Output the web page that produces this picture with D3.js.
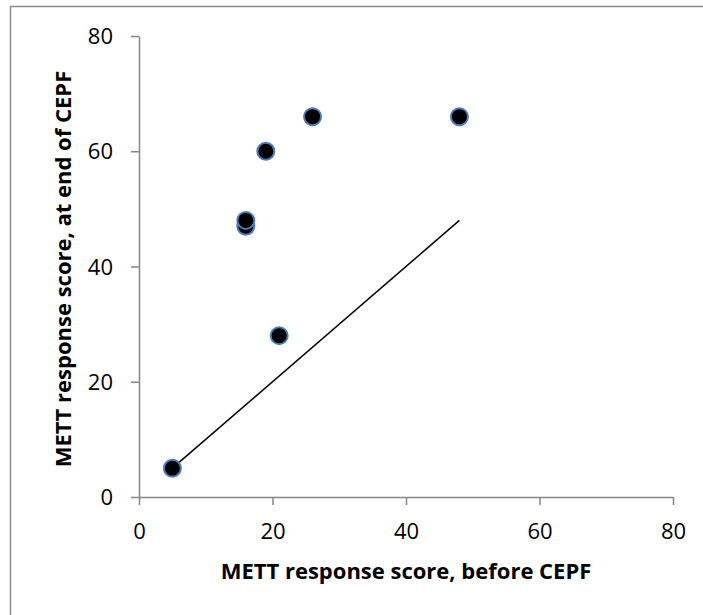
<!DOCTYPE html>
<meta charset="utf-8">
<style>
    body { margin: 0; background: #fff; }
    svg text { font-family: "Open Sans", sans-serif; fill: #000; }
    .tick text { font-size: 22px; }
    .title { font-size: 22px; font-weight: bold; }
</style>
<svg width="703" height="615"></svg>
<script src="https://d3js.org/d3.v7.min.js"></script>
<script>
    // METT scores, before vs at end of CEPF
    var before = [5, 16, 16, 19, 21, 26, 48];
    var after  = [5, 47, 48, 60, 28, 66, 66];
    var refLine = [[5, 5], [48, 48]];
    var ticks = [0, 20, 40, 60, 80];

    var svg = d3.select("svg");

    // chart frame
    svg.append("rect")
        .attr("x", 10.5).attr("y", 6.5)
        .attr("width", 720).attr("height", 620)
        .attr("fill", "none")
        .attr("stroke", "#8c8c8c")
        .attr("stroke-width", 1.5);

    var x = d3.scaleLinear().domain([0, 80]).range([139, 673]);
    var y = d3.scaleLinear().domain([0, 80]).range([497, 36]);

    var xAxis = svg.append("g")
        .attr("transform", "translate(0," + y(0) + ")")
        .call(d3.axisBottom(x).tickValues(ticks).tickSize(8).tickPadding(18).tickSizeOuter(0));

    var yAxis = svg.append("g")
        .attr("transform", "translate(" + x(0) + ",0)")
        .call(d3.axisLeft(y).tickValues(ticks).tickSize(8).tickPadding(18).tickSizeOuter(0));

    [xAxis, yAxis].forEach(function(a) {
        a.attr("font-size", null);
        a.select(".domain").attr("stroke", "#868686").attr("stroke-width", 1.5);
        a.selectAll(".tick line").attr("stroke", "#868686").attr("stroke-width", 1.5);
    });
    xAxis.selectAll(".tick text").attr("dy", "0.71em");
    yAxis.selectAll(".tick text").attr("dy", "0.35em");

    // 1:1 reference line
    svg.append("path")
        .datum(refLine)
        .attr("fill", "none")
        .attr("stroke", "#000")
        .attr("stroke-width", 1.5)
        .attr("d", d3.line().x(d => x(d[0])).y(d => y(d[1])));

    svg.append("g").selectAll("circle")
        .data(before.map((b, i) => [b, after[i]]))
        .enter().append("circle")
        .attr("cx", d => x(d[0]))
        .attr("cy", d => y(d[1]))
        .attr("r", 8.5)
        .attr("fill", "#000")
        .attr("stroke", "#4a7ebb")
        .attr("stroke-width", 2);

    svg.append("text")
        .attr("class", "title")
        .attr("x", 406).attr("y", 579)
        .attr("text-anchor", "middle")
        .text("METT response score, before CEPF");

    svg.append("text")
        .attr("class", "title")
        .attr("transform", "translate(71,269) rotate(-90)")
        .attr("text-anchor", "middle")
        .text("METT response score, at end of CEPF");
</script>
